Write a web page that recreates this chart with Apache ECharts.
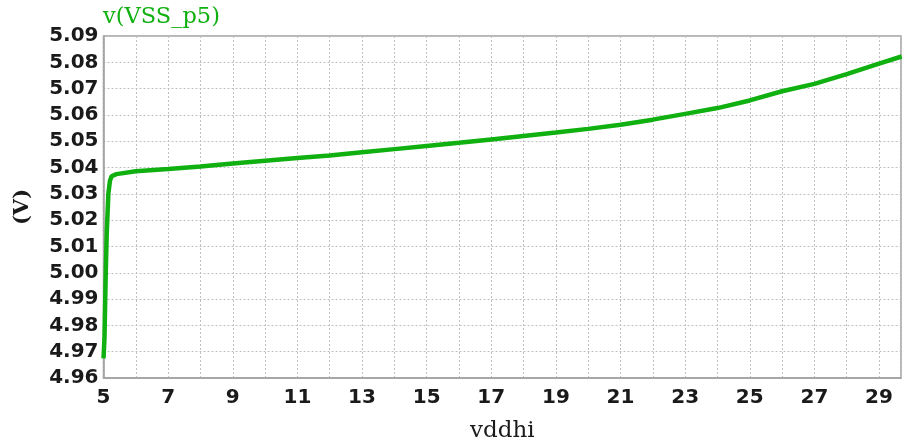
<!DOCTYPE html>
<html>
<head>
<meta charset="utf-8">
<script src="https://cdn.jsdelivr.net/npm/echarts@6/dist/echarts.min.js"></script>
<style>html,body{margin:0;padding:0;background:#fff}#c{width:904px;height:448px}</style>
</head>
<body>
<div id="c"></div>
<script>
const seriesName = 'v(VSS_p5)';
const xName = 'vddhi';
const yName = '(V)';
const vddhi = [5.0, 5.03, 5.07, 5.1, 5.15, 5.2, 5.25, 5.4, 6, 7, 8, 9, 10, 11, 12, 13, 14, 15, 16, 17, 18, 19, 20, 21, 22, 23, 24, 25, 26, 27, 28, 29, 29.7];
const voltage = [4.9675, 4.975, 5.000, 5.015, 5.030, 5.035, 5.0367, 5.0375, 5.0386, 5.0394, 5.0404, 5.0415, 5.0426, 5.0436, 5.0446, 5.0458, 5.0470, 5.0482, 5.0494, 5.0507, 5.0520, 5.0533, 5.0547, 5.0563, 5.0582, 5.0604, 5.0626, 5.0655, 5.0690, 5.0718, 5.0755, 5.0795, 5.0822];

const chart = echarts.init(document.getElementById('c'));
const tickFont = {fontFamily: 'DejaVu Sans', fontWeight: 'bold', fontSize: 20, color: '#1a1a1a'};
chart.setOption({
  animation: false,
  grid: {left: 103.5, right: 0, top: 36, bottom: 65, show: true, borderColor: '#a0a0a0', borderWidth: 1.5, backgroundColor: 'transparent'},
  graphic: [{type: 'text', left: 103, top: 6, style: {text: seriesName, fill: '#10b010', font: '22.5px "DejaVu Serif"'}}],
  xAxis: {
    type: 'value', min: 5, max: 29.68, interval: 1,
    name: xName, nameLocation: 'middle', nameGap: 42,
    nameTextStyle: {fontFamily: 'DejaVu Serif', fontSize: 23, color: '#1a1a1a'},
    axisLine: {show: true, lineStyle: {color: '#a0a0a0', width: 1.5}},
    axisTick: {show: false},
    axisLabel: Object.assign({margin: 10, formatter: v => (Number.isInteger(v) && (v - 5) % 2 === 0) ? String(v) : ''}, tickFont),
    splitLine: {show: true, lineStyle: {color: '#c0c0c0', type: [2, 2], width: 1}}
  },
  yAxis: {
    type: 'value', min: 4.96, max: 5.09, interval: 0.01,
    name: yName, nameLocation: 'middle', nameGap: 70,
    nameTextStyle: {fontFamily: 'DejaVu Serif', fontSize: 21, color: '#1a1a1a', fontWeight: 'bold'},
    axisLine: {show: true, lineStyle: {color: '#a0a0a0', width: 1.5}},
    axisTick: {show: false},
    axisLabel: Object.assign({margin: 5, formatter: v => v.toFixed(2)}, tickFont),
    splitLine: {show: true, lineStyle: {color: '#c0c0c0', type: [2, 2], width: 1}}
  },
  series: [{
    name: seriesName, type: 'line', showSymbol: false,
    data: vddhi.map((x, i) => [x, voltage[i]]),
    lineStyle: {color: '#10b010', width: 4.5},
    clip: true
  }]
});
</script>
</body>
</html>
